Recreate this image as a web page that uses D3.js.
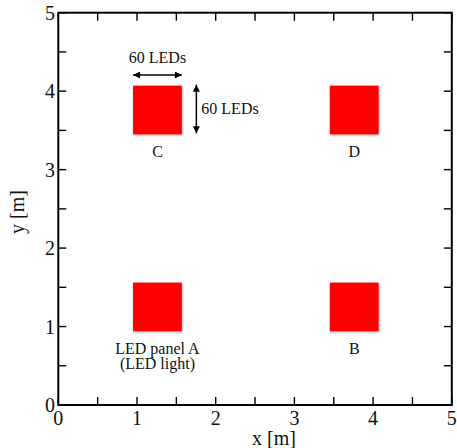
<!DOCTYPE html>
<html><head><meta charset="utf-8">
<script src="https://cdn.jsdelivr.net/npm/d3@7"></script>
<style>body{margin:0;background:#fff}text{font-family:"Liberation Serif","DejaVu Serif",serif;fill:#111}</style>
</head><body><svg id="c" width="457" height="448"></svg>
<script>
const tickValues = [0, 1, 2, 3, 4, 5];
const minorTicks = [0.5, 1.5, 2.5, 3.5, 4.5];
const panelNames = ["A", "B", "C", "D"];
const panelX0 = [0.95, 3.45, 0.95, 3.45];
const panelY0 = [0.94, 0.94, 3.45, 3.45];
const panelSize = [0.62, 0.62, 0.62, 0.62];
const panelLabels = [["LED panel A", "(LED light)"], ["B"], ["C"], ["D"]];
const xTitle = "x [m]", yTitle = "y [m]", ledText = "60 LEDs";

const svg = d3.select("#c");
const x = d3.scaleLinear().domain([0, 5]).range([58.3, 451.8]);
const y = d3.scaleLinear().domain([0, 5]).range([405, 12.7]);

const defs = svg.append("defs");
const f = defs.append("filter").attr("id", "sh").attr("x", "-20%").attr("y", "-20%").attr("width", "140%").attr("height", "140%");
f.append("feDropShadow").attr("dx", 0.6).attr("dy", 0.8).attr("stdDeviation", 0.8).attr("flood-color", "#000").attr("flood-opacity", 0.4);
["e", "s"].forEach(id => {
  defs.append("marker").attr("id", "ar" + id).attr("viewBox", "0 0 10 10").attr("refX", 10).attr("refY", 5)
    .attr("markerWidth", 8).attr("markerHeight", 7).attr("markerUnits", "userSpaceOnUse").attr("orient", "auto-start-reverse")
    .append("path").attr("d", "M0,0L10,5L0,10Z").attr("fill", "#000");
});

// panels
const panels = panelNames.map((n, i) => ({n, x0: panelX0[i], y0: panelY0[i], s: panelSize[i], lab: panelLabels[i]}));
svg.selectAll("rect.p").data(panels).join("rect").attr("class", "p")
  .attr("x", d => x(d.x0)).attr("y", d => y(d.y0 + d.s))
  .attr("width", d => x(d.x0 + d.s) - x(d.x0)).attr("height", d => y(d.y0) - y(d.y0 + d.s))
  .attr("fill", "#ff0000").attr("filter", "url(#sh)");

panels.forEach(d => {
  const cx = (x(d.x0) + x(d.x0 + d.s)) / 2;
  const by = y(d.y0);
  d.lab.forEach((t, k) => {
    svg.append("text").attr("x", cx).attr("y", by + 22.5 + k * 15.5).attr("text-anchor", "middle")
      .attr("font-size", 16).text(t);
  });
});

// LED dimension arrows (panel C)
const pc = panels[2];
svg.append("line").attr("x1", x(pc.x0)).attr("x2", x(pc.x0 + pc.s)).attr("y1", 75).attr("y2", 75)
  .attr("stroke", "#000").attr("stroke-width", 1.5).attr("marker-start", "url(#are)").attr("marker-end", "url(#are)");
svg.append("text").attr("x", (x(pc.x0) + x(pc.x0 + pc.s)) / 2).attr("y", 62.5).attr("text-anchor", "middle").attr("font-size", 16).text(ledText);
const ax = x(pc.x0 + pc.s) + 14.5;
svg.append("line").attr("x1", ax).attr("x2", ax).attr("y1", y(pc.y0 + pc.s) - 1).attr("y2", y(pc.y0) - 1)
  .attr("stroke", "#000").attr("stroke-width", 1.5).attr("marker-start", "url(#ars)").attr("marker-end", "url(#ars)");
svg.append("text").attr("x", ax + 5).attr("y", 114).attr("font-size", 16).text(ledText);

// frame and ticks
const all = tickValues.concat(minorTicks);
const tl = 8;
const g = svg.append("g").attr("stroke", "#000").attr("stroke-width", 1.4);
g.selectAll("line.b").data(all).join("line").attr("x1", d => x(d)).attr("x2", d => x(d)).attr("y1", y(0)).attr("y2", y(0) - tl);
g.selectAll("line.t").data(all).join("line").attr("x1", d => x(d)).attr("x2", d => x(d)).attr("y1", y(5)).attr("y2", y(5) + tl);
g.selectAll("line.l").data(all).join("line").attr("y1", d => y(d)).attr("y2", d => y(d)).attr("x1", x(0)).attr("x2", x(0) + tl);
g.selectAll("line.r").data(all).join("line").attr("y1", d => y(d)).attr("y2", d => y(d)).attr("x1", x(5)).attr("x2", x(5) - tl);
svg.append("rect").attr("x", x(0)).attr("y", y(5)).attr("width", x(5) - x(0)).attr("height", y(0) - y(5))
  .attr("fill", "none").attr("stroke", "#000").attr("stroke-width", 2);

svg.selectAll("text.xt").data(tickValues).join("text").attr("class", "xt")
  .attr("x", d => x(d)).attr("y", 425).attr("text-anchor", "middle").attr("font-size", 20).text(d => d);
svg.selectAll("text.yt").data(tickValues).join("text").attr("class", "yt")
  .attr("x", 55).attr("y", d => y(d) + 7).attr("text-anchor", "end").attr("font-size", 20).text(d => d);

svg.append("text").attr("x", 274).attr("y", 444.5).attr("text-anchor", "middle").attr("font-size", 20).text(xTitle);
svg.append("text").attr("transform", "translate(24,212) rotate(-90)").attr("text-anchor", "middle").attr("font-size", 20).text(yTitle);
</script></body></html>
